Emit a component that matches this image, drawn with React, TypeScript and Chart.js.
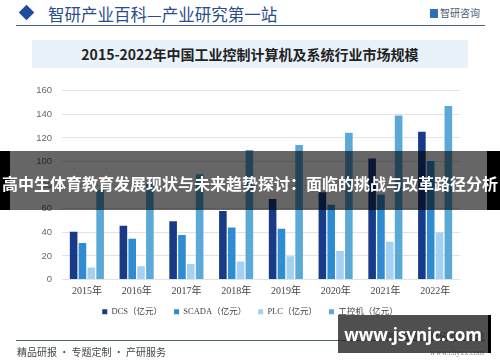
import React, { useEffect, useRef } from "react";
import { Chart, registerables } from "chart.js";
Chart.register(...registerables);

const categories = ["2015年", "2016年", "2017年", "2018年", "2019年", "2020年", "2021年", "2022年"];
const seriesNames = ["DCS（亿元）", "SCADA（亿元）", "PLC（亿元）", "工控机（亿元）"];
const dcsValues = [40.5, 45.5, 49.3, 58.0, 68.3, 74.0, 102.6, 125.2];
const scadaValues = [31.0, 34.5, 37.8, 44.0, 43.0, 63.3, 72.0, 100.5];
const plcValues = [10.2, 11.2, 13.2, 15.3, 19.6, 24.2, 32.0, 39.9];
const ipcValues = [76.0, 82.0, 89.3, 109.8, 114.0, 124.4, 139.0, 147.0];
const seriesColors = ["#183b88", "#2f8cd0", "#a3d1f3", "#5aa9d6"];
const yMin = 0;
const yMax = 160;
const yStep = 20;

const CJK = "'Noto Sans CJK SC', sans-serif";
const SERIF = "'Liberation Serif', 'Noto Sans CJK SC', serif";

const legendShift = {
  id: "legendShift",
  afterLayout(chart: any) {
    const lg = chart.legend;
    if (lg) {
      lg.left += 20;
      lg.right += 20;
      if (lg.legendHitBoxes) lg.legendHitBoxes.forEach((b: any) => { b.left += 20; });
    }
  },
};

function BarChart() {
  const ref = useRef<HTMLCanvasElement | null>(null);
  useEffect(() => {
    if (!ref.current) return;
    const values = [dcsValues, scadaValues, plcValues, ipcValues];
    const chart = new Chart(ref.current, {
      type: "bar",
      data: {
        labels: categories,
        datasets: seriesNames.map((name, i) => ({
          label: name,
          data: values[i],
          backgroundColor: seriesColors[i],
          borderWidth: 0,
          categoryPercentage: 0.71,
          barPercentage: 0.86,
        })),
      },
      options: {
        animation: false,
        responsive: false,
        maintainAspectRatio: false,
        layout: { padding: { left: 0, right: 40, top: 7, bottom: 9 } },
        plugins: {
          tooltip: { enabled: false },
          legend: {
            display: true,
            position: "bottom",
            labels: {
              boxWidth: 5,
              boxHeight: 5,
              padding: 12,
              color: "#444",
              font: { family: SERIF, size: 8.5 },
            },
          },
        },
        scales: {
          x: {
            grid: { display: false, drawTicks: false },
            border: { display: false },
            ticks: { color: "#444", font: { family: SERIF, size: 10 }, padding: 6, maxRotation: 0 },
            afterFit: (s: any) => { s.height = 16; },
          },
          y: {
            min: yMin,
            max: yMax,
            grid: { color: "#e2e2e2", drawTicks: false, lineWidth: 1 },
            border: { display: false },
            ticks: { stepSize: yStep, color: "#666", font: { family: "'Liberation Sans', Arial, sans-serif", size: 9.5 }, padding: 10 },
            afterFit: (s: any) => { s.width = 62; },
          },
        },
      },
      plugins: [legendShift],
    });
    return () => chart.destroy();
  }, []);
  return <canvas ref={ref} width={500} height={260} style={{ position: "absolute", left: 0, top: 75, width: 500, height: 260 }} />;
}

export default function App() {
  return (
    <div style={{ position: "absolute", left: 0, top: 0, width: 500, height: 362, background: "#fff", overflow: "hidden", fontFamily: CJK }}>
      {/* header */}
      <div style={{ position: "absolute", left: 21, top: 7, width: 11, height: 11, background: "#1f4c9e", transform: "rotate(45deg)" }} />
      <div style={{ position: "absolute", left: 48, top: 2, fontSize: 16.5, lineHeight: "24px", color: "#2a4b8d", letterSpacing: 0 }}>智研产业百科—产业研究第一站</div>
      <div style={{ position: "absolute", left: 430, top: 9, width: 8, height: 9, background: "#2f6fb8" }} />
      <div style={{ position: "absolute", left: 440, top: 6, fontSize: 10, lineHeight: "14px", color: "#4a5a70" }}>智研咨询</div>
      <div style={{ position: "absolute", left: 16, top: 25, width: 469, height: 1, background: "#4b6382" }} />
      {/* title box */}
      <div style={{ position: "absolute", left: 32, top: 40, width: 436, height: 28, background: "#e9f1f9", display: "flex", alignItems: "center", justifyContent: "center", fontSize: 14, fontWeight: 700, color: "#222" }}>
        2015-2022年中国工业控制计算机及系统行业市场规模
      </div>
      <BarChart />
      {/* footer */}
      <div style={{ position: "absolute", left: 16, top: 340, width: 469, height: 1, background: "#4b6382" }} />
      <div style={{ position: "absolute", left: 17, top: 345, fontSize: 10, lineHeight: "14px", color: "#444" }}>精品研报 · 专题定制 · 产研服务</div>
      <div style={{ position: "absolute", right: 16, top: 331, fontSize: 9, lineHeight: "12px", color: "#555" }}>资料来源：智研咨询整理</div>
      <div style={{ position: "absolute", right: 16, top: 347, fontSize: 8, lineHeight: "12px", color: "#888", fontFamily: SERIF }}>www.chyxx.com</div>
      {/* overlay banner */}
      <div style={{ position: "absolute", left: 0, top: 151, width: 10, height: 59, background: "#000" }} />
      <div style={{ position: "absolute", left: 487, top: 151, width: 13, height: 59, background: "#000" }} />
      <div style={{ position: "absolute", left: 10, top: 151, width: 477, height: 59, background: "rgba(0,0,0,0.6)" }} />
      <div style={{ position: "absolute", left: 0, top: 151, width: 500, height: 59, display: "flex", alignItems: "center", justifyContent: "center", color: "#fff", fontWeight: 700, fontSize: 16, whiteSpace: "nowrap", paddingTop: 4, boxSizing: "border-box" }}>
        高中生体育教育发展现状与未来趋势探讨：面临的挑战与改革路径分析
      </div>
      {/* watermark box */}
      <div style={{ position: "absolute", left: 338, top: 315, width: 150, height: 38, background: "rgba(40,40,40,0.82)", borderRight: "3px solid #000", display: "flex", alignItems: "center", justifyContent: "center", color: "#fff", fontWeight: 700, fontSize: 17, fontFamily: "'Open Sans', 'DejaVu Sans', sans-serif" }}>
        www.jsynjc.com
      </div>
    </div>
  );
}
